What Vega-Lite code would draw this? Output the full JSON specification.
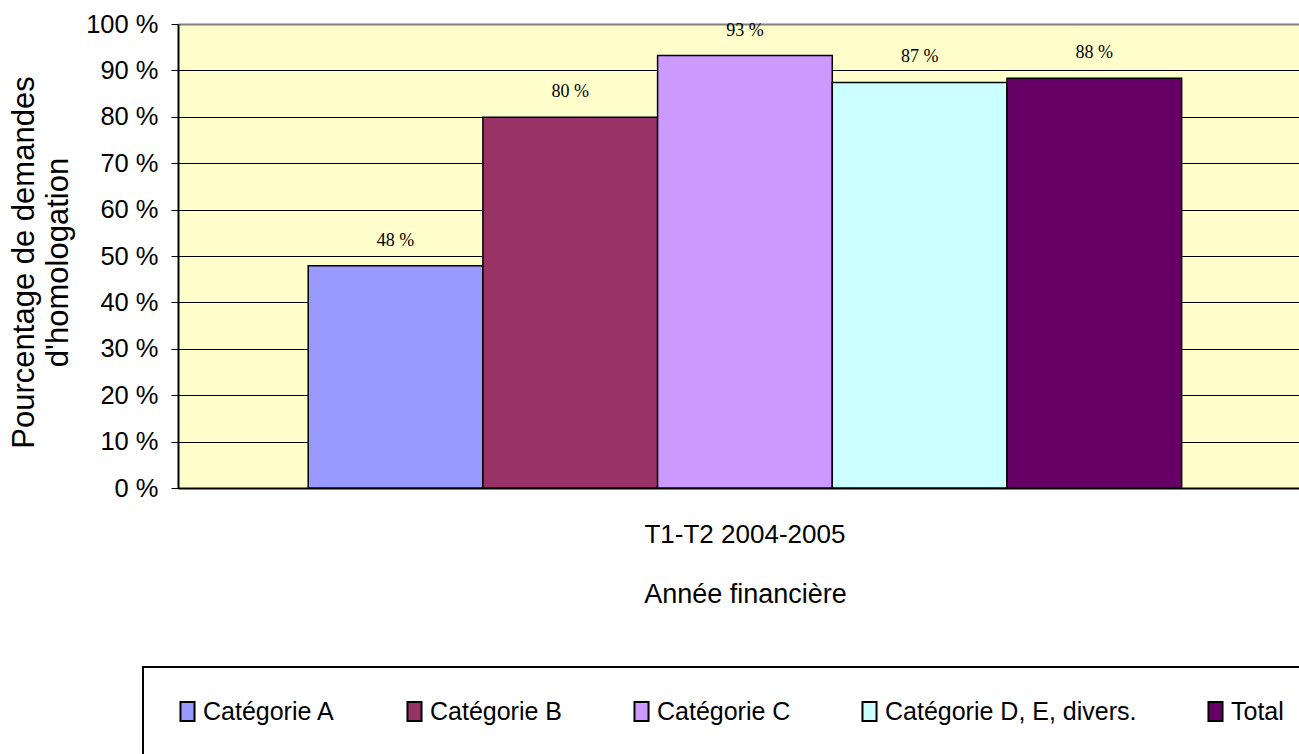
{
  "$schema": "https://vega.github.io/schema/vega-lite/v6.json",
  "width": 1121,
  "height": 464,
  "autosize": {"type": "none"},
  "padding": {"left": 178, "top": 24, "right": 0, "bottom": 266},
  "background": "white",
  "config": {
    "view": {"fill": "#FFFFCC", "stroke": null},
    "font": "Liberation Sans",
    "legend": {"strokeWidth": 2}
  },
  "data": {
    "values": [
      {"periode": "T1-T2 2004-2005", "categorie": "Catégorie A", "valeur": 47.9, "etiquette": "48 %"},
      {"periode": "T1-T2 2004-2005", "categorie": "Catégorie B", "valeur": 79.9, "etiquette": "80 %"},
      {"periode": "T1-T2 2004-2005", "categorie": "Catégorie C", "valeur": 93.2, "etiquette": "93 %"},
      {"periode": "T1-T2 2004-2005", "categorie": "Catégorie D, E, divers.", "valeur": 87.4, "etiquette": "87 %"},
      {"periode": "T1-T2 2004-2005", "categorie": "Total", "valeur": 88.3, "etiquette": "88 %"}
    ]
  },
  "encoding": {
    "x": {
      "field": "periode",
      "type": "nominal",
      "scale": {"paddingInner": 0, "paddingOuter": 0.1417, "align": 0.526},
      "axis": {
        "title": "Année financière",
        "labelAngle": 0,
        "labelFontSize": 26,
        "labelColor": "black",
        "labelBaseline": "alphabetic",
        "labelPadding": 54,
        "labelLimit": 600,
        "ticks": false,
        "tickSize": 0,
        "domainColor": "black",
        "domainWidth": 2,
        "titleFontSize": 27,
        "titleFontWeight": "normal",
        "titleColor": "black",
        "titleBaseline": "alphabetic",
        "titleY": 114,
        "titleX": 567
      }
    },
    "xOffset": {
      "field": "categorie",
      "type": "nominal",
      "sort": ["Catégorie A", "Catégorie B", "Catégorie C", "Catégorie D, E, divers.", "Total"],
      "scale": {"paddingInner": 0, "paddingOuter": 0}
    },
    "y": {
      "field": "valeur",
      "type": "quantitative",
      "scale": {"domain": [0, 100], "nice": false},
      "axis": {
        "title": ["Pourcentage de demandes", "d'homologation"],
        "values": [0, 10, 20, 30, 40, 50, 60, 70, 80, 90, 100],
        "labelExpr": "datum.value + ' %'",
        "labelFontSize": 25.5,
        "labelColor": "black",
        "labelPadding": 13,
        "labelFlush": false,
        "labelOverlap": false,
        "tickSize": 7,
        "tickColor": "black",
        "tickWidth": 1,
        "domainColor": "black",
        "domainWidth": 2,
        "grid": true,
        "gridColor": {"condition": {"test": "datum.value === 100", "value": "#808080"}, "value": "black"},
        "gridWidth": {"condition": {"test": "datum.value === 100", "value": 2}, "value": 1},
        "gridOpacity": 1,
        "titleFontSize": 31,
        "titleFontWeight": "normal",
        "titleColor": "black",
        "titleLineHeight": 34,
        "titleX": -145,
        "titleY": 238,
        "titleBaseline": "alphabetic",
        "titleAngle": -90,
        "titleAlign": "center"
      }
    }
  },
  "layer": [
    {
      "mark": {"type": "bar", "stroke": "black", "strokeWidth": 1.5},
      "encoding": {
        "color": {
          "field": "categorie",
          "type": "nominal",
          "sort": ["Catégorie A", "Catégorie B", "Catégorie C", "Catégorie D, E, divers.", "Total"],
          "scale": {
            "domain": ["Catégorie A", "Catégorie B", "Catégorie C", "Catégorie D, E, divers.", "Total"],
            "range": ["#9999FF", "#993366", "#CC99FF", "#CCFFFF", "#660066"]
          },
          "legend": {
            "title": null,
            "orient": "none",
            "legendX": -35,
            "legendY": 643,
            "direction": "horizontal",
            "columns": 5,
            "columnPadding": 66,
            "padding": 32,
            "strokeColor": "black",
            "symbolType": "M-0.74,-1H0.74V1H-0.74Z",
            "symbolSize": 361,
            "symbolStrokeColor": "black",
            "symbolStrokeWidth": 2,
            "symbolOpacity": 1,
            "labelFontSize": 25,
            "labelColor": "black",
            "labelOffset": 3,
            "labelLimit": 400
          }
        }
      }
    },
    {
      "mark": {"type": "text", "font": "Liberation Serif", "fontSize": 18, "baseline": "alphabetic", "dy": -20, "color": "black"},
      "encoding": {"text": {"field": "etiquette"}}
    }
  ]
}
